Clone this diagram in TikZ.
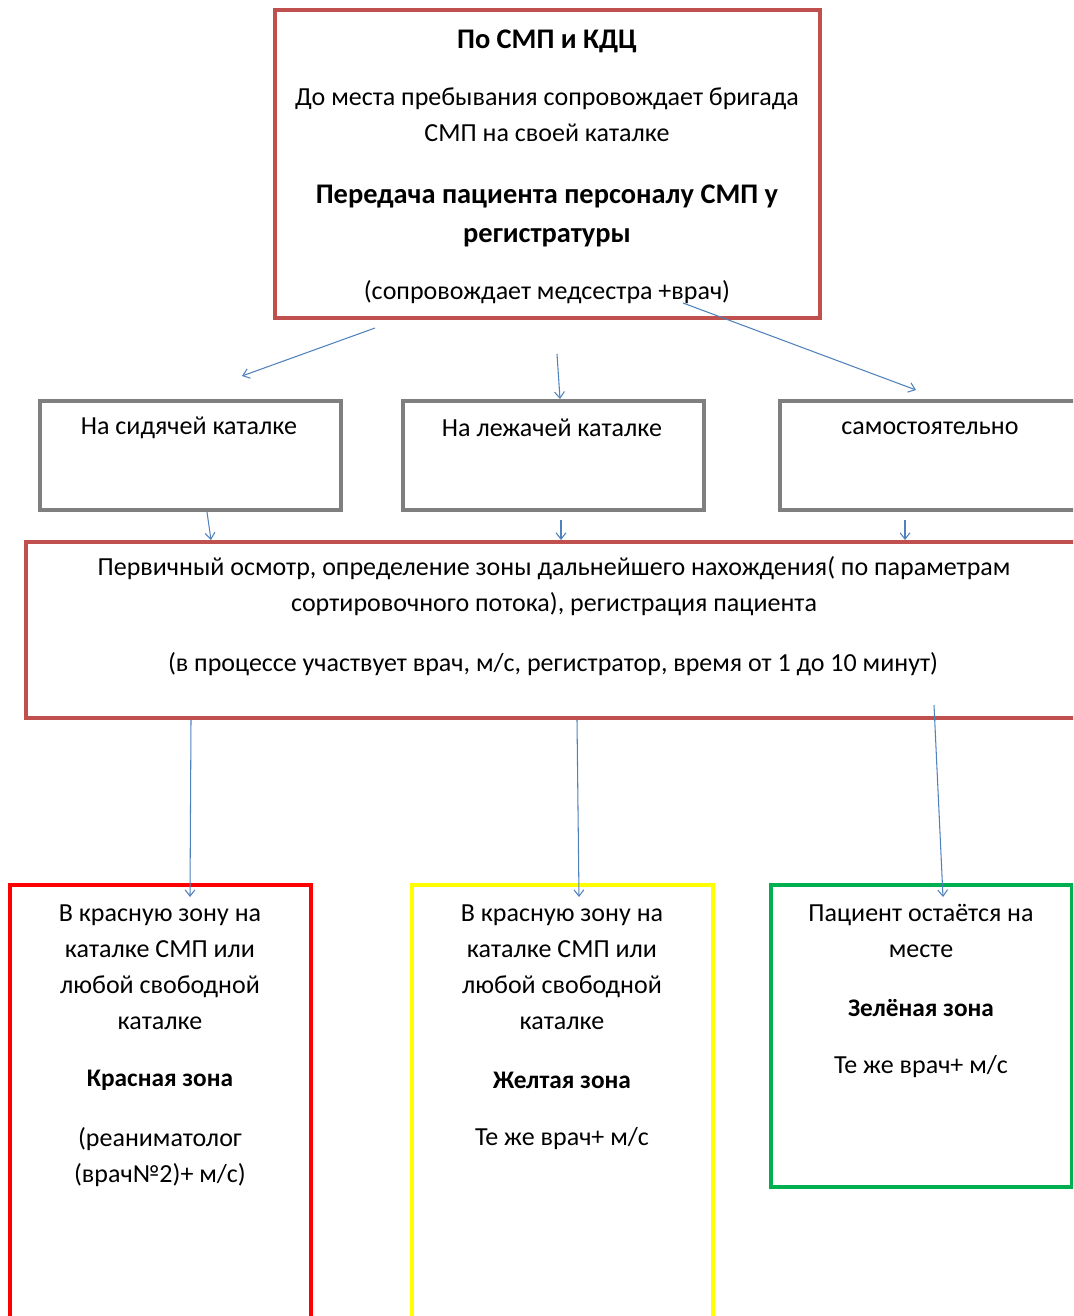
\documentclass[tikz,border=0pt]{standalone}
\usepackage{fontspec}
\setmainfont{Carlito}
\usetikzlibrary{arrows.meta,positioning}
\definecolor{boxred}{HTML}{C0504D}
\definecolor{arrowblue}{HTML}{4F81BD}
\definecolor{framegray}{HTML}{7F7F7F}
\definecolor{zonered}{HTML}{FF0000}
\definecolor{zoneyellow}{HTML}{FFFF00}
\definecolor{zonegreen}{HTML}{00B050}

\begin{document}
\begin{tikzpicture}[x=0.025cm, y=-0.025cm,
    box/.style={draw, rectangle, line width=2.5pt, inner sep=0pt},
    wayBox/.style={box, framegray, minimum width=7.525cm, minimum height=2.725cm},
    zoneBox/.style={box, minimum width=7.525cm},
    txt/.style={font=\fontsize{18.5}{25.5}\selectfont, align=center, inner sep=0pt, text=black},
    head/.style={txt, font=\fontsize{20.2}{27.6}\selectfont\bfseries},
    zoneHead/.style={txt, font=\fontsize{18}{25.5}\selectfont\bfseries},
    flow/.style={arrowblue, line width=0.75pt, -{Straight Barb[length=4.5pt,width=7pt]}}]
    \useasboundingbox (0,0) rectangle (1073,1316);
    \clip (0,0) rectangle (1073,1316);
    % Верхний блок: доставка бригадой СМП
    \node[box, boxred, minimum width=13.625cm, minimum height=7.7cm] (smp) at (547.5,164) {};
    \node[head] (smpTitle) at (547,41) {По СМП и КДЦ};
    \node[txt] (smpText) at (547,115) {До места пребывания сопровождает бригада\\СМП на своей каталке};
    \node[head] (smpPass) at (547,216) {Передача пациента персоналу СМП у\\регистратуры};
    \node[txt] (smpNote) at (547,292) {(сопровождает медсестра +врач)};
    % Способ передвижения
    \node[wayBox] (seat) at (190.5,455.5) {};
    \node[wayBox] (lying) at (553.5,455.5) {};
    \node[wayBox] (self) at (930.5,455.5) {};
    \node[txt] (seatText) at (189,428) {На сидячей каталке};
    \node[txt] (lyingText) at (552,428) {На лежачей каталке};
    \node[txt] (selfText) at (930,428) {самостоятельно};
    % Первичный осмотр
    \node[box, boxred, minimum width=26.4cm, minimum height=4.4cm] (exam) at (554,630) {};
    \node[txt] (examText) at (554,586.5) {Первичный осмотр, определение зоны дальнейшего нахождения( по параметрам\\сортировочного потока), регистрация пациента};
    \node[txt] (examNote) at (553,664) {(в процессе участвует врач, м/с, регистратор, время от 1 до 10 минут)};
    % Зоны
    \node[zoneBox, zonered, minimum height=12.5cm] (red) at (160.5,1135) {};
    \node[zoneBox, zoneyellow, minimum height=12.5cm] (yellow) at (562.5,1135) {};
    \node[zoneBox, zonegreen, minimum height=7.55cm] (green) at (921.5,1036) {};
    \node[txt] (redText) at (160,967) {В красную зону на\\каталке СМП или\\любой свободной\\каталке};
    \node[zoneHead] (redTitle) at (160,1080) {Красная зона};
    \node[txt] (redNote) at (160,1157) {(реаниматолог\\(врач№2)+ м/с)};
    \node[txt] (yellowText) at (562,967) {В красную зону на\\каталке СМП или\\любой свободной\\каталке};
    \node[zoneHead] (yellowTitle) at (562,1080) {Желтая зона};
    \node[txt] (yellowNote) at (562,1139) {Те же врач+ м/с};
    \node[txt] (greenText) at (921,931) {Пациент остаётся на\\месте};
    \node[zoneHead] (greenTitle) at (921,1008) {Зелёная зона};
    \node[txt] (greenNote) at (921,1067) {Те же врач+ м/с};
    % Концы стрелок
    \coordinate (fromSmpL) at (375,328);  \coordinate (toSeat) at (242,376);
    \coordinate (fromSmpM) at (557,354);  \coordinate (toLying) at (560,399);
    \coordinate (fromSmpR) at (683,303);  \coordinate (toSelf) at (916,390);
    \coordinate (fromSeat) at (207,512);  \coordinate (toExamL) at (211,540);
    \coordinate (fromLying) at (561,520); \coordinate (toExamM) at (561,540);
    \coordinate (fromSelf) at (905,520);  \coordinate (toExamR) at (905,540);
    \coordinate (fromExamL) at (191,720); \coordinate (toRed) at (190,897);
    \coordinate (fromExamM) at (577,720); \coordinate (toYellow) at (579,897);
    \coordinate (fromExamR) at (934,705); \coordinate (toGreen) at (943,897);
    % Стрелки
    \foreach \a/\b in {fromSmpL/toSeat, fromSmpM/toLying, fromSmpR/toSelf,
        fromSeat/toExamL, fromLying/toExamM, fromSelf/toExamR,
        fromExamL/toRed, fromExamM/toYellow, fromExamR/toGreen}
        \draw[flow] (\a) -- (\b);
\end{tikzpicture}
\end{document}
